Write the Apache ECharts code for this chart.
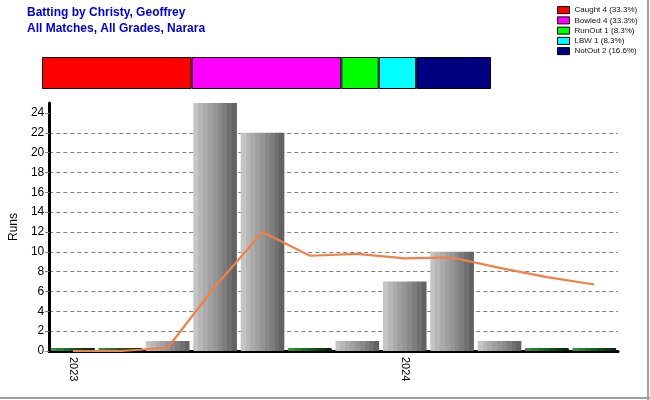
<!DOCTYPE html>
<html><head><meta charset="utf-8">
<script src="https://cdn.jsdelivr.net/npm/echarts@6/dist/echarts.min.js"></script>
<style>html,body{margin:0;padding:0;background:#fff}#c{width:650px;height:400px}</style>
</head><body><div id="c"></div>
<script>
// ---- data ----
const categories = ['2023','','','','','','','2024','','','',''];
const runs = [0, 0, 1, 25, 22, 0, 1, 7, 10, 1, 0, 0];
const average = [0, 0, 0.33, 6.5, 12, 9.6, 9.8, 9.33, 9.43, 8.38, 7.44, 6.7];
const yTicks = [0, 2, 4, 6, 8, 10, 12, 14, 16, 18, 20, 22, 24];
const dismissalTypes = ['Caught', 'Bowled', 'RunOut', 'LBW', 'NotOut'];
const dismissalCounts = [4, 4, 1, 1, 2];
const dismissalPct = ['33.3%', '33.3%', '8.3%', '8.3%', '16.6%'];

// ---- styles ----
const FONT = '"Liberation Sans", Arial, sans-serif';
const dismissalColors = ['#ff0000', '#ff00ff', '#00ff00', '#00ffff', '#000080'];
function stripes(cols) {
  const stops = [], n = cols.length;
  cols.forEach((c, i) => {
    stops.push({offset: i / n, color: c});
    stops.push({offset: (i + 1) / n, color: c});
  });
  return {type: 'linear', x: 0, y: 0, x2: 1, y2: 0, colorStops: stops};
}
const grayBar = stripes(['#c4c4c4','#b7b7b7','#ababab','#a0a0a0','#959595','#898989','#7d7d7d','#707070','#626262']);
const greenBar = stripes(['#3a8a3a','#2f7a2f','#256a25','#1c5a1c','#134a13','#0c3a0c','#062806']);

const legendNames = dismissalTypes.map((t, i) => t + ' ' + dismissalCounts[i] + ' (' + dismissalPct[i] + ')');
const total = dismissalCounts.reduce((a, b) => a + b, 0);

const dismissalSeries = dismissalTypes.map((t, i) => ({
  name: legendNames[i],
  type: 'bar',
  stack: 'd',
  xAxisIndex: 1,
  yAxisIndex: 1,
  barWidth: '100%',
  data: [dismissalCounts[i]],
  itemStyle: {color: dismissalColors[i], borderColor: '#000', borderWidth: 1},
  silent: true
}));

const chart = echarts.init(document.getElementById('c'), null, {renderer: 'canvas'});
chart.setOption({
  animation: false,
  backgroundColor: '#fff',
  textStyle: {fontFamily: FONT},
  title: {
    text: 'Batting by Christy, Geoffrey\nAll Matches, All Grades, Narara',
    left: 27, top: 5, padding: 0,
    textStyle: {fontFamily: FONT, fontSize: 12, fontWeight: 'bold', color: '#0000cc', lineHeight: 15.5}
  },
  legend: {
    orient: 'vertical', left: 557, top: 5, padding: 0,
    itemWidth: 12, itemHeight: 7, itemGap: 0, icon: 'rect', itemTextGap: 4,
    selectedMode: false,
    data: legendNames,
    itemStyle: {borderColor: '#000', borderWidth: 1},
    textStyle: {fontFamily: FONT, fontSize: 8, lineHeight: 10.25, color: '#111'}
  },
  graphic: [
    {type: 'line', shape: {x1: 648, y1: 0, x2: 648, y2: 400}, style: {stroke: '#a0a0a0', lineWidth: 2}, silent: true},
    {type: 'line', shape: {x1: 0, y1: 398, x2: 650, y2: 398}, style: {stroke: '#a0a0a0', lineWidth: 2}, silent: true}
  ],
  grid: [
    {left: 42, top: 103, width: 576, height: 248},
    {left: 42, top: 57, width: 449, height: 32}
  ],
  xAxis: [
    {
      type: 'category', data: categories, gridIndex: 0,
      axisLine: {lineStyle: {color: '#000', width: 3}},
      axisTick: {alignWithLabel: true, length: 5, lineStyle: {color: '#777'}},
      axisLabel: {rotate: -90, interval: 0, fontSize: 11, color: '#000', margin: 6, fontFamily: FONT}
    },
    {type: 'value', gridIndex: 1, min: 0, max: total, show: false}
  ],
  yAxis: [
    {
      type: 'value', gridIndex: 0, min: 0, max: 25, interval: 2,
      name: 'Runs', nameLocation: 'middle', nameGap: 20,
      nameTextStyle: {fontSize: 12, color: '#000', fontFamily: FONT},
      axisLine: {show: true, lineStyle: {color: '#000', width: 3}},
      axisTick: {show: true, length: 4, lineStyle: {color: '#777'}, customValues: yTicks},
      axisLabel: {fontSize: 12, color: '#000', margin: 5, customValues: yTicks, fontFamily: FONT},
      splitLine: {show: true, showMaxLine: false, lineStyle: {color: '#808080', type: [4, 3], width: 1}}
    },
    {type: 'category', gridIndex: 1, data: [''], show: false}
  ],
  series: [
    {
      type: 'bar', xAxisIndex: 0, yAxisIndex: 0,
      barWidth: '92%', barMinHeight: 3,
      data: runs.map(v => v === 0 ? {value: v, itemStyle: {color: greenBar}} : v),
      itemStyle: {color: grayBar},
      silent: true, z: 2
    },
    {
      type: 'line', xAxisIndex: 0, yAxisIndex: 0,
      data: average, showSymbol: false, symbol: 'none',
      lineStyle: {color: '#f0804a', width: 2.2},
      silent: true, z: 3
    }
  ].concat(dismissalSeries)
});
</script>
</body></html>
